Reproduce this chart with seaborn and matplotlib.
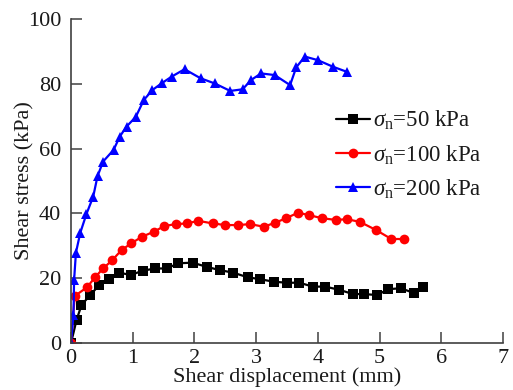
import numpy as np
import pandas as pd
import matplotlib
matplotlib.use("Agg")
import matplotlib.pyplot as plt
import seaborn as sns

# ---- data ----
x50 = [0, 0.09, 0.17, 0.31, 0.46, 0.62, 0.78, 0.97, 1.16, 1.36, 1.55, 1.74, 1.97, 2.2, 2.41,
       2.63, 2.86, 3.06, 3.29, 3.5, 3.7, 3.92, 4.12, 4.35, 4.57, 4.75, 4.96, 5.14, 5.34, 5.55, 5.71]
y50 = [0, 7.1, 11.7, 14.8, 17.9, 19.7, 21.7, 21.0, 22.3, 23.0, 23.0, 24.6, 24.8, 23.5, 22.5,
       21.7, 20.3, 19.7, 18.9, 18.6, 18.6, 17.4, 17.4, 16.4, 15.1, 15.1, 14.8, 16.6, 16.9, 15.5, 17.4]

x100 = [0, 0.06, 0.26, 0.39, 0.52, 0.67, 0.82, 0.98, 1.15, 1.35, 1.51, 1.7, 1.88, 2.06, 2.3,
        2.5, 2.71, 2.9, 3.12, 3.31, 3.48, 3.68, 3.85, 4.07, 4.29, 4.47, 4.68, 4.94, 5.19, 5.4]
y100 = [0, 14.5, 17.2, 20.3, 23.0, 25.6, 28.7, 30.8, 32.8, 34.4, 36.1, 36.7, 36.9, 37.7, 36.9,
        36.4, 36.4, 36.7, 35.9, 37.1, 38.5, 40.2, 39.5, 38.5, 38.0, 38.2, 37.4, 34.9, 32.1, 32.1]

x200 = [0, 0.04, 0.05, 0.08, 0.15, 0.25, 0.36, 0.43, 0.52, 0.69, 0.79, 0.9, 1.05, 1.18, 1.32,
        1.48, 1.63, 1.84, 2.1, 2.33, 2.58, 2.78, 2.92, 3.08, 3.3, 3.55, 3.65, 3.79, 4.0, 4.24, 4.47]
y200 = [0, 8.6, 19.4, 27.9, 34.0, 39.8, 45.2, 51.5, 56.0, 59.6, 63.7, 66.8, 69.8, 75.0, 78.1,
        80.3, 82.2, 84.5, 81.7, 80.1, 77.8, 78.3, 81.2, 83.2, 82.7, 79.6, 85.1, 88.4, 87.3, 85.3, 83.7]

labels = [r'$\mathit{σ}_{\mathrm{n}}$=50 kPa', r'$\mathit{σ}_{\mathrm{n}}$=100 kPa',
          r'$\mathit{σ}_{\mathrm{n}}$=200 kPa']
xticks = [0, 1, 2, 3, 4, 5, 6, 7]
yticks = [0, 20, 40, 60, 80, 100]

df = pd.concat([
    pd.DataFrame({"x": x50, "y": y50, "s": labels[0]}),
    pd.DataFrame({"x": x100, "y": y100, "s": labels[1]}),
    pd.DataFrame({"x": x200, "y": y200, "s": labels[2]}),
], ignore_index=True)

sns.set_style("ticks")
plt.rcParams['font.family'] = ['Liberation Serif', 'DejaVu Serif']
plt.rcParams['mathtext.fontset'] = 'custom'
plt.rcParams['mathtext.rm'] = 'Liberation Serif'
plt.rcParams['mathtext.it'] = 'Liberation Serif:italic'

fig = plt.figure(figsize=(5.13, 3.9), dpi=100)
ax = fig.add_axes([71/513, 1-343/390, 432/513, 324/390])

sns.lineplot(data=df, x="x", y="y", hue="s", style="s", hue_order=labels, style_order=labels,
             palette=["#000000", "#ff0000", "#0000ff"],
             markers=["s", "o", "^"], dashes=False, sort=False, estimator=None,
             linewidth=1.6, markersize=7, markeredgewidth=0, ax=ax)

ax.set_xlim(0, 7)
ax.set_ylim(0, 100)
ax.set_xticks(xticks)
ax.set_yticks(yticks)
sns.despine(ax=ax)
for sp in ["left", "bottom"]:
    ax.spines[sp].set_color("#404040")
    ax.spines[sp].set_linewidth(1.2)
ax.tick_params(direction="in", length=8, width=1.1, color="#404040",
               labelsize=16, labelcolor="#1a1a1a")
ax.tick_params(axis="x", pad=4)
ax.tick_params(axis="y", pad=7)
ax.set_xlabel("Shear displacement (mm)", fontsize=16, labelpad=0, color="#1a1a1a")
ax.set_ylabel("Shear stress (kPa)", fontsize=16, labelpad=-5, color="#1a1a1a")

leg = ax.legend(loc="upper left", bbox_to_anchor=(0.593, 0.75), frameon=False,
                fontsize=16.5, handlelength=1.45, labelspacing=0.47, borderaxespad=0,
                handletextpad=0.15)
for t in leg.get_texts():
    t.set_color("#1a1a1a")

fig.savefig("out.png", dpi=100)
